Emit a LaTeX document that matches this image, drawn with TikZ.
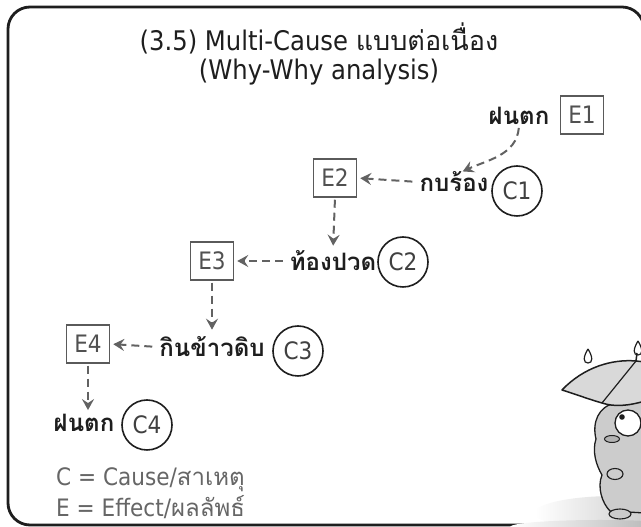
\documentclass[tikz,border=0pt]{standalone}
\usepackage{fontspec}
\setmainfont{DejaVu Sans}[FakeStretch=0.9]
\newfontfamily\thai[Script=Thai]{Loma}
\usetikzlibrary{arrows.meta,calc,shadings}
\definecolor{ink}{HTML}{1E1E1E}
\definecolor{boxgray}{HTML}{5A5A5A}
\definecolor{arrowgray}{HTML}{626262}
\definecolor{legendgray}{HTML}{666666}
\tikzset{
  effect/.style={draw=boxgray, line width=1.5pt, text=boxgray!90!black, inner sep=0pt,
    minimum width=43pt, minimum height=38pt, font=\fontsize{24}{26}\selectfont},
  cause/.style={circle, draw=ink, line width=1.6pt, text=ink!85, inner sep=0pt,
    minimum size=50pt, font=\fontsize{24}{26}\selectfont},
  event/.style={text=ink, inner sep=1pt, font=\thai\bfseries\fontsize{24}{26}\selectfont},
  whyarrow/.style={draw=arrowgray, line width=2pt, dash pattern=on 8pt off 5pt,
    -{Stealth[length=11pt,width=12pt,inset=4pt]}, shorten <=6pt, shorten >=3pt},
  heading/.style={text=ink, font=\fontsize{27}{31}\selectfont, align=center},
  legend/.style={text=legendgray, anchor=west, inner sep=0pt, font=\fontsize{24}{26}\selectfont},
}
\begin{document}
\begin{tikzpicture}[x=1pt,y=1pt]
\useasboundingbox (0,0) rectangle (641,527);
\fill[white] (0,0) rectangle (641,527);

% outer frame
\draw[ink, line width=2.8pt, rounded corners=22pt] (8,2) rectangle (644,520);

% heading
\node[heading] (title1) at (319,489) {(3.5) Multi-Cause {\thai แบบต่อเนื่อง}};
\node[heading] (title2) at (319,455) {(Why-Why analysis)};

% chain of causes and effects
\node[effect] (E1) at (582,412) {E1};
\node[event]  (rain1) at (519,411) {ฝนตก};
\node[event]  (frog) at (454,345) {กบร้อง};
\node[cause]  (C1) at (517,336) {C1};

\node[effect] (E2) at (335,349) {E2};
\node[event]  (belly) at (333,266) {ท้องปวด};
\node[cause]  (C2) at (403,265) {C2};

\node[effect] (E3) at (212,266) {E3};
\node[event]  (rice) at (212,180) {กินข้าวดิบ};
\node[cause]  (C3) at (298,176) {C3};

\node[effect] (E4) at (88,183) {E4};
\node[event]  (rain2) at (84,104) {ฝนตก};
\node[cause]  (C4) at (147,102) {C4};

% connectors
\draw[whyarrow, shorten <=2pt] (rain1.south) to[out=-95, in=25] ([xshift=6pt,yshift=-2pt]frog.north);
\draw[whyarrow] (frog.west) -- (E2.east);
\draw[whyarrow, shorten <=2pt, shorten >=4pt] (E2.south) -- (belly.north);
\draw[whyarrow] (belly.west) -- (E3.east);
\draw[whyarrow, shorten <=2pt, shorten >=6pt] (E3.south) -- (rice.north);
\draw[whyarrow] (rice.west) -- (E4.east);
\draw[whyarrow, shorten <=2pt, shorten >=3pt] (E4.south) -- ([xshift=4pt]rain2.north);

% legend
\node[legend] (legC) at (56,47) {C = Cause/{\thai สาเหตุ}};
\node[legend] (legE) at (56,20) {E = Effect/{\thai ผลลัพธ์}};

% frog with umbrella in the rain, lower right corner
\begin{scope}
  \clip (0,0) rectangle (641,527);
  % ground shadow
  \shade[left color=white, right color=gray!55] (615,14) ellipse [x radius=80, y radius=17];
  \shade[left color=white, right color=gray!70] (600,0) ellipse [x radius=90, y radius=7];
  % body and head
  \filldraw[fill=gray!40, draw=ink, line width=1.3pt]
    (645,126) -- (616,124) .. controls (598,121) and (592,104) .. (596,88)
    .. controls (592,76) and (596,62) .. (602,52)
    .. controls (597,40) and (602,24) .. (610,16) -- (645,14) -- cycle;
  % eye
  \filldraw[fill=white, draw=ink, line width=1.3pt] (628,104) circle [radius=13];
  \fill[ink] (622,110) circle [radius=2.8];
  % cheek
  \filldraw[fill=gray!60, draw=ink, line width=1pt] (612,88) ellipse [x radius=7.5, y radius=3.5];
  % hand and foot
  \filldraw[fill=gray!40, draw=ink, line width=1.1pt] (615,53) ellipse [x radius=8, y radius=5.5];
  \filldraw[fill=gray!40, draw=ink, line width=1.1pt] (620,13) ellipse [x radius=11, y radius=5];
  % umbrella canopy
  \filldraw[fill=gray!30, draw=ink, line width=1.5pt, line join=round]
    (562,137) .. controls (584,160) and (612,168) .. (636,166) -- (645,165) -- (645,126)
    .. controls (628,121) and (614,120) .. (602,124)
    .. controls (588,128) and (575,133) .. (562,137) -- cycle;
  \draw[ink, line width=1.2pt] (636,166) -- (602,124);
  \draw[ink, line width=1.5pt] (636,166) -- (637,174);
  % raindrops
  \draw[ink, line width=1.2pt] (588,178) .. controls (583,170) and (583,164) .. (588,164)
    .. controls (593,164) and (593,170) .. (588,178);
  \draw[ink, line width=1.2pt] (638,186) .. controls (633,178) and (633,172) .. (638,172)
    .. controls (643,172) and (643,178) .. (638,186);
\end{scope}
\end{tikzpicture}
\end{document}
